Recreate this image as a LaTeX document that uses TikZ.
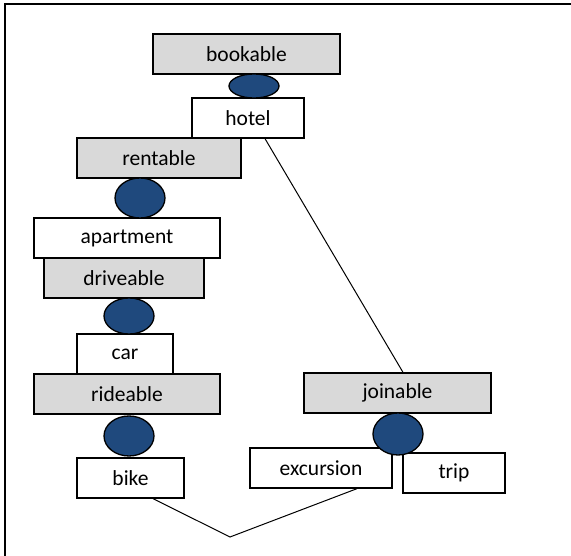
\documentclass[tikz,border=0pt]{standalone}
\usepackage{fontspec}
\setmainfont{Carlito}
\usetikzlibrary{shapes.geometric}
\definecolor{boxgray}{HTML}{D9D9D9}
\definecolor{dotblue}{HTML}{1F497D}
\begin{document}
\begin{tikzpicture}[x=1pt,y=-1pt,
  gbox/.style={draw=black,line width=1.3pt,fill=boxgray,rectangle,minimum height=40pt,inner sep=0pt,font=\fontsize{21.5}{24}\selectfont},
  wbox/.style={draw=black,line width=1.3pt,fill=white,rectangle,minimum height=40pt,inner sep=0pt,font=\fontsize{21.5}{24}\selectfont},
  dot/.style={draw=black,line width=1.3pt,fill=dotblue,ellipse,inner sep=0pt},
  conn/.style={draw=black,line width=1pt}]
\useasboundingbox (0,0) rectangle (571,556);
\draw[line width=2pt] (5,556) -- (5,4) -- (571,4);
% connectors
\node[wbox,minimum width=112pt] (hotel) at (248,118) {hotel};
\node[gbox,minimum width=187pt] (joinable) at (397.5,393) {joinable};
\node[wbox,minimum width=107pt] (bike) at (130.5,478) {bike};
\node[wbox,minimum width=142pt] (excursion) at (321,468) {excursion};
\coordinate (v) at (230,537);
\draw[conn] ([xshift=17pt]hotel.south) -- ([xshift=5.5pt]joinable.north);
\draw[conn] ([xshift=22.5pt]bike.south) -- (v) -- ([xshift=36pt]excursion.south);
% boxes
\node[gbox,minimum width=187pt] (bookable) at (246.5,54) {bookable};
\node[gbox,minimum width=164pt] (rentable) at (159,158) {rentable};
\node[wbox,minimum width=186pt] (apartment) at (127,238) {apartment};
\node[gbox,minimum width=160pt] (driveable) at (124,278) {driveable};
\node[wbox,minimum width=96pt] (car) at (125,354) {car};
\node[gbox,minimum width=186pt] (rideable) at (127,394) {rideable};
\node[wbox,minimum width=102pt] (trip) at (454,473) {trip};
% ellipses
\node[dot,minimum width=50pt,minimum height=24pt] (e1) at (254,86) {};
\node[dot,minimum width=50pt,minimum height=40pt] (e2) at (140,198) {};
\node[dot,minimum width=50pt,minimum height=36pt] (e3) at (129,316) {};
\node[dot,minimum width=50pt,minimum height=40pt] (e4) at (129,436) {};
\node[dot,minimum width=50pt,minimum height=42pt] (e5) at (398,434) {};
\end{tikzpicture}
\end{document}
